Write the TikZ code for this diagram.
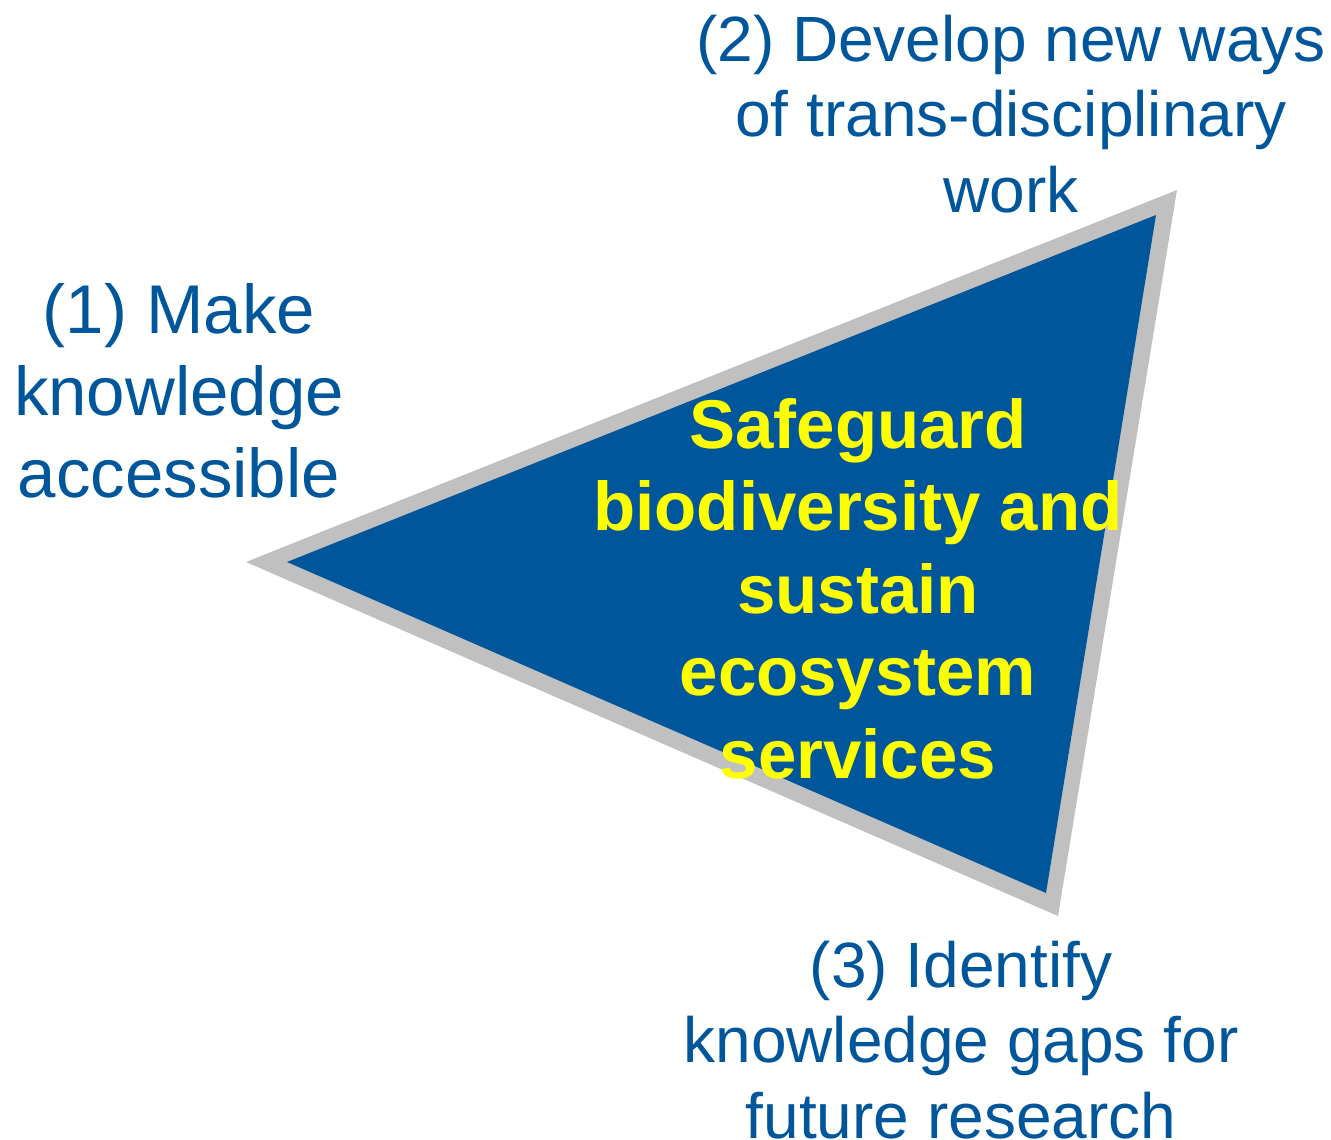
\documentclass[tikz,border=0pt]{standalone}
\usepackage{fontspec}
\setmainfont{Liberation Sans}
\definecolor{tblue}{RGB}{0,86,155}
\definecolor{tgray}{RGB}{192,192,192}
\definecolor{tyellow}{RGB}{255,255,0}
\tikzset{
  lbl/.style={text=tblue, font=\fontsize{69}{82}\selectfont, align=center, inner sep=0pt, anchor=base},
  lbltight/.style={lbl, font=\fontsize{64}{75.5}\selectfont},
  goal/.style={text=tyellow, font=\fontsize{69}{82.5}\selectfont\bfseries, align=center, inner sep=0pt, anchor=base}
}
\begin{document}
\begin{tikzpicture}[x=1pt,y=-1pt]
\useasboundingbox (0,0) rectangle (1331,1140);
\fill[tgray] (246,562) -- (1177,190) -- (1058,916) -- cycle;
\fill[tblue] (287,562) -- (1156,215) -- (1046,893) -- cycle;
\node[lbl] (l1) at (179,497) {(1) Make\\knowledge\\accessible};
\node[lbltight] (l2) at (1011,212) {(2) Develop new ways\\of trans-disciplinary\\work};
\node[lbltight] (l3) at (961,1138) {(3) Identify\\knowledge gaps for\\future research};
\node[goal] (g) at (858,778) {Safeguard\\biodiversity and\\sustain\\ecosystem\\services};
\end{tikzpicture}
\end{document}
